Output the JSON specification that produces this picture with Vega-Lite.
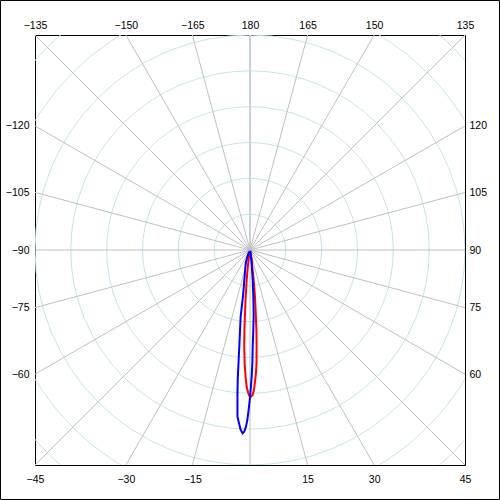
{
  "$schema": "https://vega.github.io/schema/vega-lite/v6.json",
  "autosize": "none",
  "width": 430,
  "height": 430,
  "padding": {"left": 35, "top": 35, "right": 35, "bottom": 35},
  "background": "white",
  "config": {
    "view": {"stroke": "#000000", "strokeWidth": 1},
    "axis": {
      "grid": false, "ticks": false, "domain": false, "title": null,
      "labelFont": "Liberation Sans", "labelFontSize": 10.5, "labelColor": "#000000",
      "labelFlush": false, "labelOverlap": false, "labelBound": false
    }
  },
  "datasets": {
    "rings": [{"r": 1}, {"r": 2}, {"r": 3}, {"r": 4}, {"r": 5}, {"r": 6}, {"r": 7}, {"r": 8}],
    "spokes": [
      {"angle": 0}, {"angle": 15}, {"angle": 30}, {"angle": 45}, {"angle": 60}, {"angle": 75},
      {"angle": 90}, {"angle": 105}, {"angle": 120}, {"angle": 135}, {"angle": 150}, {"angle": 165},
      {"angle": 180}, {"angle": 195}, {"angle": 210}, {"angle": 225}, {"angle": 240}, {"angle": 255},
      {"angle": 270}, {"angle": 285}, {"angle": 300}, {"angle": 315}, {"angle": 330}, {"angle": 345}
    ],
    "curves": [
      {"series": "red", "angle": -12, "r": 0.03},
      {"series": "red", "angle": -8.5, "r": 0.22},
      {"series": "red", "angle": -7.5, "r": 0.47},
      {"series": "red", "angle": -6.3, "r": 0.84},
      {"series": "red", "angle": -5.3, "r": 1.31},
      {"series": "red", "angle": -4.5, "r": 1.77},
      {"series": "red", "angle": -4.0, "r": 2.23},
      {"series": "red", "angle": -3.4, "r": 2.71},
      {"series": "red", "angle": -2.7, "r": 3.17},
      {"series": "red", "angle": -2.0, "r": 3.54},
      {"series": "red", "angle": -1.4, "r": 3.82},
      {"series": "red", "angle": -0.7, "r": 3.99},
      {"series": "red", "angle": -0.3, "r": 4.07},
      {"series": "red", "angle": 0.4, "r": 4.09},
      {"series": "red", "angle": 1.0, "r": 4.05},
      {"series": "red", "angle": 1.6, "r": 3.91},
      {"series": "red", "angle": 2.1, "r": 3.71},
      {"series": "red", "angle": 2.8, "r": 3.43},
      {"series": "red", "angle": 3.3, "r": 3.15},
      {"series": "red", "angle": 3.9, "r": 2.71},
      {"series": "red", "angle": 4.6, "r": 2.23},
      {"series": "red", "angle": 5.2, "r": 1.76},
      {"series": "red", "angle": 6.1, "r": 1.31},
      {"series": "red", "angle": 6.8, "r": 0.92},
      {"series": "red", "angle": 7.5, "r": 0.56},
      {"series": "red", "angle": 9.5, "r": 0.28},
      {"series": "red", "angle": 12, "r": 0.05},
      {"series": "blue", "angle": -25, "r": 0.05},
      {"series": "blue", "angle": -21.8, "r": 0.2},
      {"series": "blue", "angle": -18, "r": 0.39},
      {"series": "blue", "angle": -10.7, "r": 0.85},
      {"series": "blue", "angle": -8.6, "r": 1.31},
      {"series": "blue", "angle": -8.0, "r": 1.87},
      {"series": "blue", "angle": -7.1, "r": 2.25},
      {"series": "blue", "angle": -6.3, "r": 2.72},
      {"series": "blue", "angle": -6.0, "r": 2.99},
      {"series": "blue", "angle": -5.4, "r": 3.64},
      {"series": "blue", "angle": -4.9, "r": 4.1},
      {"series": "blue", "angle": -4.3, "r": 4.66},
      {"series": "blue", "angle": -3.6, "r": 4.85},
      {"series": "blue", "angle": -3.0, "r": 5.02},
      {"series": "blue", "angle": -2.3, "r": 5.12},
      {"series": "blue", "angle": -1.8, "r": 5.07},
      {"series": "blue", "angle": -1.3, "r": 4.93},
      {"series": "blue", "angle": -0.9, "r": 4.74},
      {"series": "blue", "angle": -0.5, "r": 4.47},
      {"series": "blue", "angle": -0.1, "r": 4.19},
      {"series": "blue", "angle": 0.4, "r": 3.81},
      {"series": "blue", "angle": 0.75, "r": 3.54},
      {"series": "blue", "angle": 1.2, "r": 3.16},
      {"series": "blue", "angle": 1.6, "r": 2.7},
      {"series": "blue", "angle": 2.4, "r": 2.23},
      {"series": "blue", "angle": 3.3, "r": 1.77},
      {"series": "blue", "angle": 4.1, "r": 1.31},
      {"series": "blue", "angle": 5.1, "r": 0.84},
      {"series": "blue", "angle": 7.1, "r": 0.37},
      {"series": "blue", "angle": 11, "r": 0.09},
      {"series": "blue", "angle": 15, "r": 0.02}
    ]
  },
  "resolve": {"axis": {"x": "independent", "y": "independent"}},
  "layer": [
    {
      "data": {"name": "rings"},
      "mark": {"type": "arc", "filled": false, "stroke": "#c6e3ec", "strokeWidth": 1, "clip": true, "theta": 0, "theta2": 6.283185},
      "encoding": {
        "radius": {"field": "r", "type": "quantitative", "stack": null, "scale": {"type": "linear", "domain": [0, 6], "range": [0, 215], "zero": true, "nice": false}}
      }
    },
    {
      "data": {"name": "spokes"},
      "transform": [
        {"calculate": "0", "as": "x0"},
        {"calculate": "9 * sin(datum.angle * PI / 180)", "as": "xe"},
        {"calculate": "-9 * cos(datum.angle * PI / 180)", "as": "ye"}
      ],
      "mark": {"type": "rule", "stroke": "#c0c0c0", "strokeWidth": 1, "clip": true},
      "encoding": {
        "x": {"field": "x0", "type": "quantitative", "scale": {"domain": [-6, 6], "nice": false, "zero": false},
              "axis": {"orient": "bottom", "values": [-6, -3.4641, -1.6077, 1.6077, 3.4641, 6], "labelPadding": 9,
                       "labelExpr": "format(round(atan(datum.value / 6) * 180 / PI), 'd')"}},
        "y": {"field": "x0", "type": "quantitative", "scale": {"domain": [-6, 6], "nice": false, "zero": false},
              "axis": {"orient": "left", "values": [-3.4641, -1.6077, 0, 1.6077, 3.4641], "labelPadding": 6,
                       "labelExpr": "format(round(-90 - atan(datum.value / 6) * 180 / PI), 'd')"}},
        "x2": {"field": "xe"},
        "y2": {"field": "ye"}
      }
    },
    {
      "data": {"name": "curves"},
      "transform": [
        {"calculate": "datum.r * sin(datum.angle * PI / 180)", "as": "cx"},
        {"calculate": "-datum.r * cos(datum.angle * PI / 180)", "as": "cy"}
      ],
      "mark": {"type": "line", "strokeWidth": 2, "clip": true, "interpolate": "linear"},
      "encoding": {
        "x": {"field": "cx", "type": "quantitative",
              "axis": {"orient": "top", "values": [-6, -3.4641, -1.6077, 0, 1.6077, 3.4641, 6], "labelPadding": 5,
                       "labelExpr": "datum.value == 0 ? '180' : format(round((datum.value > 0 ? 180 : -180) - atan(datum.value / 6) * 180 / PI), 'd')"}},
        "y": {"field": "cy", "type": "quantitative",
              "axis": {"orient": "right", "values": [-3.4641, -1.6077, 0, 1.6077, 3.4641], "labelPadding": 4,
                       "labelExpr": "format(round(90 + atan(datum.value / 6) * 180 / PI), 'd')"}},
        "color": {"field": "series", "type": "nominal", "scale": {"domain": ["red", "blue"], "range": ["#ff0000", "#0000ff"]}, "legend": null},
        "order": {"field": "angle", "type": "quantitative"}
      }
    },
    {
      "data": {"values": [{}]},
      "mark": {"type": "rect", "fill": null, "fillOpacity": 0, "stroke": "#000000", "strokeWidth": 1, "clip": false},
      "encoding": {
        "x": {"datum": -6.963, "type": "quantitative", "axis": null},
        "x2": {"datum": 6.963},
        "y": {"datum": -6.963, "type": "quantitative", "axis": null},
        "y2": {"datum": 6.963}
      }
    }
  ]
}
